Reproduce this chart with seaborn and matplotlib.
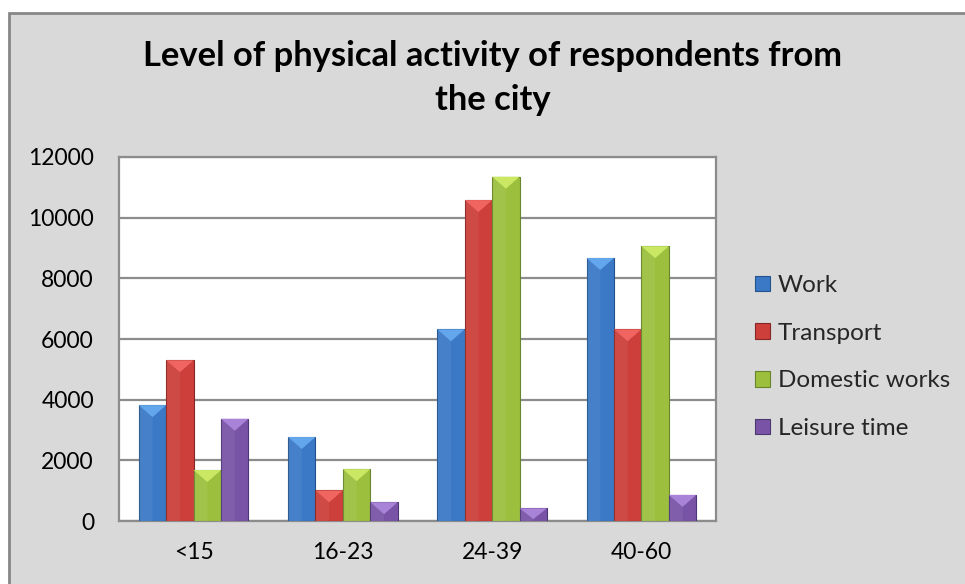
import matplotlib
matplotlib.use("Agg")
import matplotlib.pyplot as plt
from matplotlib.patches import Rectangle, Polygon, Patch
import seaborn as sns
import pandas as pd
import numpy as np

# Age groups and activity counts per domain
age_groups = ["<15", "16-23", "24-39", "40-60"]
activities = ["Work", "Transport", "Domestic works", "Leisure time"]
work = [3820, 2770, 6320, 8670]
transport = [5300, 1010, 10580, 6320]
domestic = [1680, 1710, 11350, 9060]
leisure = [3370, 620, 420, 860]
y_ticks = [0, 2000, 4000, 6000, 8000, 10000, 12000]

title = "Level of physical activity of respondents from\nthe city"

face_colors = ["#3b79c6", "#cc3f3a", "#9cc03e", "#7954a6"]
light_colors = ["#63a6ec", "#f06560", "#cbe865", "#a883d8"]
edge_colors = ["#24528c", "#872624", "#67852a", "#4d3674"]

df = pd.DataFrame({
    "age": np.repeat(age_groups, len(activities)),
    "activity": activities * len(age_groups),
    "count": [v for grp in zip(work, transport, domestic, leisure) for v in grp],
})

sns.set_theme(style="white")
plt.rcParams["font.family"] = ["Lato", "DejaVu Sans"]

fig = plt.figure(figsize=(9.65, 5.84), dpi=100)
fig.patch.set_facecolor("white")

# Chart-area panel with its grey border
panel = Rectangle((8.5 / 965, -0.05), 1.1, 1 - 12.5 / 584 + 0.05,
                  transform=fig.transFigure, facecolor="#d9d9d9",
                  edgecolor="#878787", linewidth=2, zorder=0)
fig.add_artist(panel)

ax = fig.add_axes([119 / 965, 63 / 584, (716 - 119) / 965, (521 - 157) / 584])
ax.set_facecolor("white")
ax.set_zorder(1)

sns.barplot(data=df, x="age", y="count", hue="activity", order=age_groups,
            hue_order=activities, palette=face_colors, saturation=1,
            width=0.735, gap=0, legend=False, ax=ax, zorder=3)

ax.set_ylim(0, 12000)
ax.set_yticks(y_ticks)
ax.set_yticklabels([str(t) for t in y_ticks])
ax.yaxis.grid(True, color="#8c8c8c", linewidth=1.6, zorder=0)
ax.set_axisbelow(True)
ax.set_xlabel("")
ax.set_ylabel("")
ax.tick_params(axis="both", length=0, labelsize=16.5, colors="black")
ax.tick_params(axis="y", pad=18)
ax.tick_params(axis="x", pad=15)
for side, sp in ax.spines.items():
    sp.set_color("#8c8c8c")
    sp.set_linewidth(1.6)

# Bevelled look: darker outline and a light wedge at the top of each bar
px_per_unit = ax.get_window_extent().height / 12000
bevel = 12 / px_per_unit
for container, fc, lc, ec in zip(ax.containers, face_colors, light_colors, edge_colors):
    for bar in container:
        x0, w, h = bar.get_x(), bar.get_width(), bar.get_height()
        bar.set_edgecolor(ec)
        bar.set_linewidth(0.8)
        d = min(bevel, h * 0.85)
        wedge = Polygon([(x0, h), (x0 + w, h), (x0 + w * 0.5, h - d)],
                        closed=True, facecolor=lc, edgecolor="none", zorder=4)
        ax.add_patch(wedge)
        side = Polygon([(x0, h), (x0 + w * 0.5, h - d), (x0 + w * 0.5, 0), (x0, 0)],
                       closed=True, facecolor="white", alpha=0.06,
                       edgecolor="none", zorder=4)
        ax.add_patch(side)

fig.text(493 / 965, 1 - 78 / 584, title, ha="center", va="center",
         fontsize=24.8, fontweight="bold", linespacing=1.45, color="black")

handles = [Patch(facecolor=fc, edgecolor=ec, linewidth=0.8)
           for fc, ec in zip(face_colors, edge_colors)]
fig.legend(handles, activities, loc="center left",
           bbox_to_anchor=(755 / 965, 1 - 357 / 584), frameon=False,
           fontsize=17.5, handlelength=0.6, handleheight=0.6,
           handletextpad=0.35, labelspacing=1.1, borderpad=0,
           borderaxespad=0)

fig.savefig("out.png", dpi=100)
